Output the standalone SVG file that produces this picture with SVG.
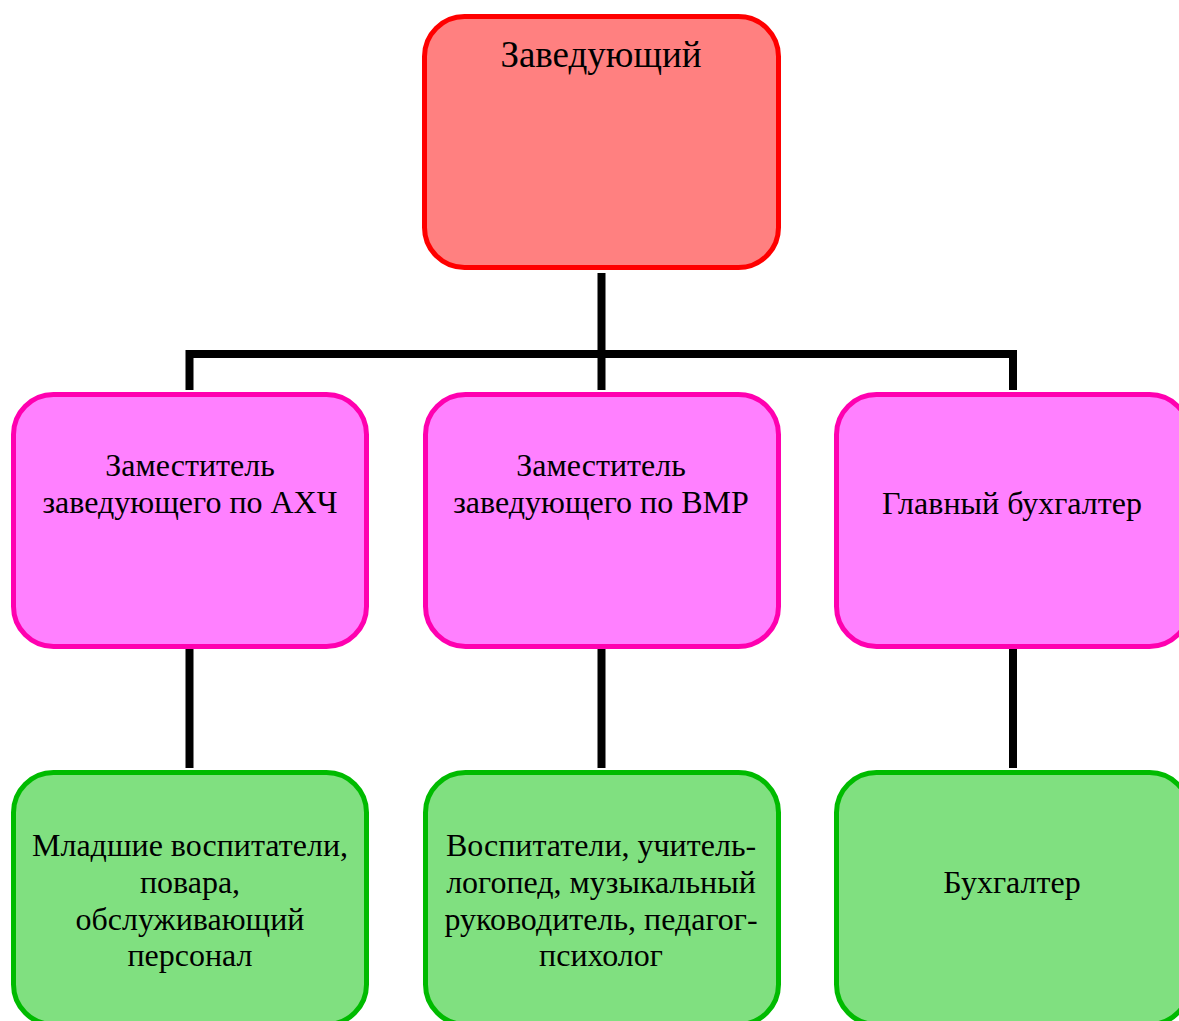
<svg xmlns="http://www.w3.org/2000/svg" width="1179" height="1021" viewBox="0 0 1179 1021">
<style>
.box{stroke-width:5}
.top{fill:#FF8080;stroke:#FF0000}
.mid{fill:#FF80FF;stroke:#FF00B0}
.bot{fill:#80E080;stroke:#00BB00}
text{font-family:"Liberation Serif","Times New Roman",serif;font-size:32px;fill:#000;text-anchor:middle}
.title{font-size:37px}
.conn{stroke:#000;stroke-width:8;fill:none}
</style>
<rect width="1179" height="1021" fill="#fff"/>
<g id="connectors">
<path class="conn" d="M601.5 273V390"/>
<path class="conn" d="M189.5 390V354H1013V390"/>
<path class="conn" d="M189.5 649V768"/>
<path class="conn" d="M601.5 649V768"/>
<path class="conn" d="M1013 649V768"/>
</g>
<g id="n-head">
<rect class="box top" x="424.5" y="16.5" width="354" height="251" rx="40"/>
<text class="title" x="601" y="67">Заведующий</text>
</g>
<g id="n-ahch">
<rect class="box mid" x="13.5" y="394.5" width="353" height="252" rx="40"/>
<text x="190" y="476">Заместитель</text>
<text x="190" y="513">заведующего по АХЧ</text>
</g>
<g id="n-vmr">
<rect class="box mid" x="425.5" y="394.5" width="353" height="252" rx="40"/>
<text x="601" y="476">Заместитель</text>
<text x="601" y="513">заведующего по ВМР</text>
</g>
<g id="n-buh-main">
<rect class="box mid" x="836.5" y="394.5" width="353" height="252" rx="40"/>
<text x="1012" y="514">Главный бухгалтер</text>
</g>
<g id="n-junior">
<rect class="box bot" x="13.5" y="772.5" width="353" height="252" rx="40"/>
<text x="190" y="856">Младшие воспитатели,</text>
<text x="190" y="893">повара,</text>
<text x="190" y="930">обслуживающий</text>
<text x="190" y="966">персонал</text>
</g>
<g id="n-teachers">
<rect class="box bot" x="425.5" y="772.5" width="353" height="252" rx="40"/>
<text x="601" y="856">Воспитатели, учитель-</text>
<text x="601" y="893">логопед, музыкальный</text>
<text x="601" y="930">руководитель, педагог-</text>
<text x="601" y="966">психолог</text>
</g>
<g id="n-buh">
<rect class="box bot" x="836.5" y="772.5" width="353" height="252" rx="40"/>
<text x="1012" y="893">Бухгалтер</text>
</g>
</svg>
